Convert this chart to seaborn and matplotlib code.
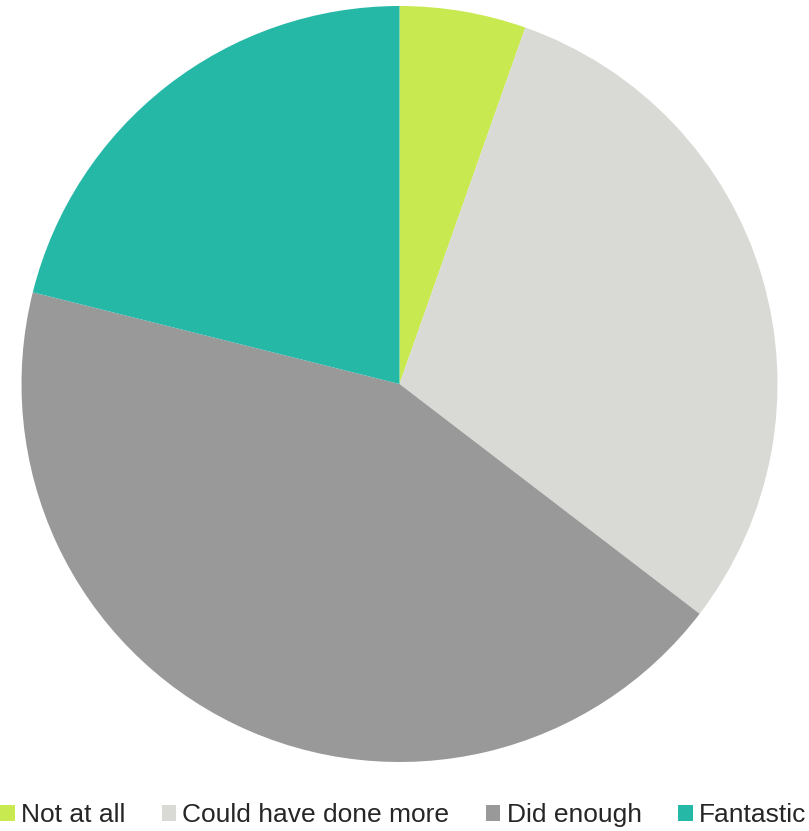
import matplotlib
matplotlib.use("Agg")
import matplotlib.pyplot as plt
from matplotlib.patches import Patch
import seaborn as sns

categories = ["Not at all", "Could have done more", "Did enough", "Fantastic"]
shares = [5.4, 30.0, 43.5, 21.1]
colors = ["#C8E950", "#D9D9D5", "#999999", "#25B8A6"]

sns.set_theme(style="white")
plt.rcParams["font.family"] = ["Liberation Sans", "DejaVu Sans"]

W, H = 809, 831
fig = plt.figure(figsize=(W / 100, H / 100), dpi=100)

cx, cy, r = 399.5, 384.0, 378.0
ax = fig.add_axes([(cx - r) / W, (H - cy - r) / H, 2 * r / W, 2 * r / H])
ax.pie(shares, colors=colors, startangle=90, counterclock=False, radius=1.0,
       wedgeprops=dict(linewidth=0))
ax.set_xlim(-1, 1)
ax.set_ylim(-1, 1)
ax.set_aspect("equal")
ax.axis("off")

handles = [Patch(facecolor=c, edgecolor="none") for c in colors]
fig.legend(handles, categories, loc="center left", bbox_to_anchor=(0.0, 1 - 815 / H),
           ncol=4, frameon=False, fontsize=19, borderpad=0, borderaxespad=0,
           handlelength=0.55, handleheight=0.55, handletextpad=0.24,
           columnspacing=1.38)

fig.savefig("out.png", dpi=100)
